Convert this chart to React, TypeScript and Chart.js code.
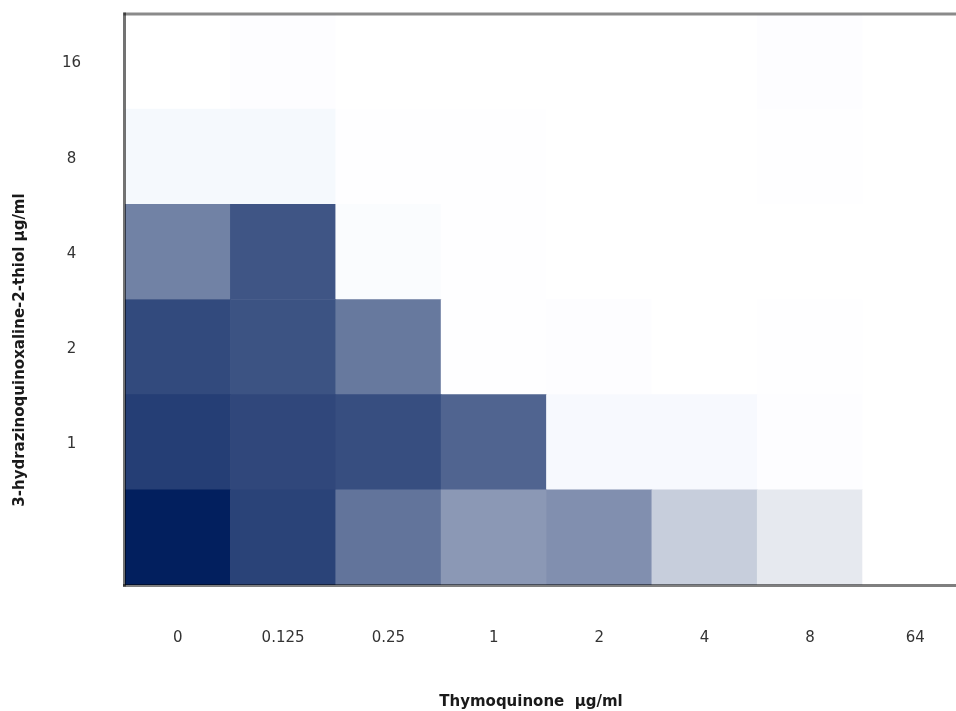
import React, { useEffect, useRef } from "react";
import { Chart, registerables } from "chart.js";

Chart.register(...registerables);

// Column categories (Thymoquinone µg/ml)
const xLabels = ["0", "0.125", "0.25", "1", "2", "4", "8", "64"];
// Row labels, bottom to top (3-hydrazinoquinoxaline-2-thiol µg/ml)
const yLabels = ["", "1", "2", "4", "8", "16"];

// Cell intensity (0-100), one array per row, bottom to top
const rowBottom = [100, 84, 62, 46, 50, 22, 10, 0];
const row1 = [86, 82, 79, 69, 3.5, 3.5, 1, 0];
const row2 = [81, 77, 60, 0.5, 1, 0, 0.5, 0];
const row4 = [56, 76, 2, 0.5, 0, 0, 0, 0];
const row8 = [4, 4, 0.5, 0.5, 0, 0, 0.5, 0];
const row16 = [0, 1, 0, 0, 0, 0, 1, 0];
const rows = [rowBottom, row1, row2, row4, row8, row16];

const xTitle = "Thymoquinone  µg/ml";
const yTitle = "3-hydrazinoquinoxaline-2-thiol µg/ml";

const FONT = '"DejaVu Sans", Verdana, sans-serif';

function cellColor(v: number): string {
  if (v < 5) {
    const s = v / 5;
    return `rgb(${Math.round(255 - s * 12)},${Math.round(255 - s * 8)},${Math.round(255 - s * 2)})`;
  }
  const t = v / 100;
  const r = Math.round(255 - t * (255 - 2));
  const g = Math.round(255 - t * (255 - 31));
  const b = Math.round(255 - t * (255 - 94));
  return `rgb(${r},${g},${b})`;
}

const framePlugin = {
  id: "frame",
  afterDatasetsDraw(chart: any) {
    const { ctx, chartArea, width } = chart;
    const { left, top, bottom } = chartArea;
    ctx.save();
    ctx.lineWidth = 3;
    // top line
    ctx.strokeStyle = "rgba(0,0,0,0.46)";
    ctx.beginPath();
    ctx.moveTo(left - 1.5, top);
    ctx.lineTo(width, top);
    ctx.stroke();
    // left line
    ctx.strokeStyle = "rgba(0,0,0,0.55)";
    ctx.beginPath();
    ctx.moveTo(left - 0.5, top - 1.5);
    ctx.lineTo(left - 0.5, bottom + 1.5);
    ctx.stroke();
    // bottom line
    ctx.strokeStyle = "rgba(0,0,0,0.5)";
    ctx.beginPath();
    ctx.moveTo(left - 2, bottom + 0.5);
    ctx.lineTo(width, bottom + 0.5);
    ctx.stroke();
    ctx.restore();
  },
  afterDraw(chart: any) {
    const { ctx } = chart;
    ctx.save();
    ctx.fillStyle = "#1a1a1a";
    ctx.font = `bold 15px ${FONT}`;
    ctx.textAlign = "center";
    ctx.textBaseline = "middle";
    ctx.fillText(xTitle, 531, 702);
    ctx.translate(20, 350);
    ctx.rotate(-Math.PI / 2);
    ctx.fillText(yTitle, 0, 0);
    ctx.restore();
  },
};

export default function App() {
  const canvasRef = useRef<HTMLCanvasElement | null>(null);

  useEffect(() => {
    const canvas = canvasRef.current;
    if (!canvas) return;
    const chart = new Chart(canvas, {
      type: "bar",
      data: {
        labels: xLabels,
        datasets: rows.map((row, i) => ({
          label: yLabels[i],
          data: xLabels.map(() => 1),
          backgroundColor: row.map(cellColor),
          borderWidth: 0,
          barPercentage: 1,
          categoryPercentage: 1,
        })),
      },
      options: {
        animation: false,
        responsive: false,
        maintainAspectRatio: false,
        layout: { padding: { top: 14, right: 32, left: 0, bottom: 0 } },
        plugins: {
          legend: { display: false },
          tooltip: { enabled: false },
        },
        scales: {
          x: {
            stacked: true,
            grid: { display: false, drawTicks: false },
            border: { display: false },
            ticks: {
              autoSkip: false,
              maxRotation: 0,
              padding: 44,
              color: "#333",
              font: { family: FONT, size: 15 },
            },
            afterFit: (scale: any) => {
              scale.height = 126;
              scale.paddingLeft = 0;
              scale.paddingRight = 0;
            },
          },
          y: {
            stacked: true,
            min: 0,
            max: 6,
            grid: { display: false, drawTicks: false },
            border: { display: false },
            afterBuildTicks: (axis: any) => {
              axis.ticks = yLabels.map((_, i) => ({ value: i + 0.5 }));
            },
            ticks: {
              crossAlign: "center",
              padding: 44,
              labelOffset: 2,
              color: "#333",
              font: { family: FONT, size: 15 },
              callback: (value: any) => yLabels[Math.floor(Number(value))],
            },
            afterFit: (scale: any) => {
              scale.width = 125;
              scale.paddingTop = 0;
              scale.paddingBottom = 0;
            },
          },
        },
      },
      plugins: [framePlugin],
    });
    return () => chart.destroy();
  }, []);

  return (
    <div
      style={{
        position: "fixed",
        left: 0,
        top: 0,
        width: 956,
        height: 711,
        overflow: "hidden",
        background: "#fff",
      }}
    >
      <canvas ref={canvasRef} width={1000} height={711} style={{ display: "block" }} />
    </div>
  );
}
